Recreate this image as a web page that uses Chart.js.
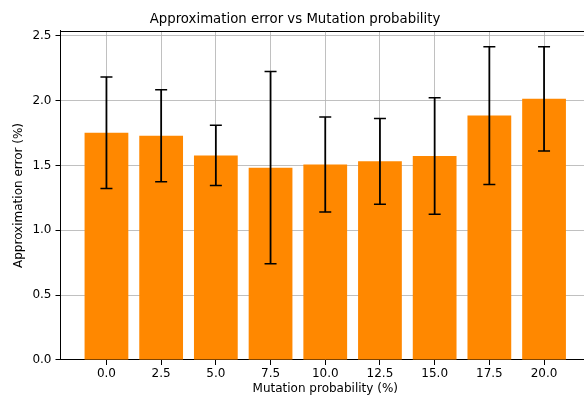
<!DOCTYPE html>
<html>
<head>
<meta charset="utf-8">
<script src="https://cdn.jsdelivr.net/npm/chart.js@4/dist/chart.umd.min.js"></script>
<style>
  html, body { margin: 0; padding: 0; background: #fff; overflow: hidden; width: 584px; height: 396px; }
  canvas { display: block; }
</style>
</head>
<body>
<canvas id="c" width="590" height="396"></canvas>
<script>
// Data
const mutationProb = [0.0, 2.5, 5.0, 7.5, 10.0, 12.5, 15.0, 17.5, 20.0];
const meanError    = [1.752, 1.728, 1.577, 1.482, 1.506, 1.531, 1.572, 1.884, 2.013];
const stdError     = [0.430, 0.355, 0.233, 0.741, 0.366, 0.330, 0.449, 0.531, 0.402];
const yTicks = [0.0, 0.5, 1.0, 1.5, 2.0, 2.5];
const xTicks = mutationProb;

const FONT = "'DejaVu Sans', sans-serif";

const errorBars = {
  id: 'errorBars',
  afterDraw(chart) {
    const ctx = chart.ctx;
    const xs = chart.scales.x, ys = chart.scales.y;
    ctx.save();
    ctx.strokeStyle = '#000';
    mutationProb.forEach((m, i) => {
      const px = xs.getPixelForValue(m);
      const top = ys.getPixelForValue(meanError[i] + stdError[i]);
      const bot = ys.getPixelForValue(meanError[i] - stdError[i]);
      ctx.lineWidth = 1.8;
      ctx.beginPath();
      ctx.moveTo(px, top); ctx.lineTo(px, bot);
      ctx.stroke();
      ctx.lineWidth = 1.5;
      ctx.beginPath();
      ctx.moveTo(px - 6, top); ctx.lineTo(px + 6, top);
      ctx.moveTo(px - 6, bot); ctx.lineTo(px + 6, bot);
      ctx.stroke();
    });
    // top spine
    const a = chart.chartArea;
    ctx.lineWidth = 1;
    ctx.beginPath();
    ctx.moveTo(a.left, Math.round(a.top) + 0.5);
    ctx.lineTo(a.right, Math.round(a.top) + 0.5);
    ctx.stroke();
    ctx.restore();
  }
};

new Chart(document.getElementById('c'), {
  type: 'bar',
  data: {
    datasets: [{
      data: mutationProb.map((m, i) => ({ x: m, y: meanError[i] })),
      backgroundColor: '#ff8800',
      borderWidth: 0,
      categoryPercentage: 1.0,
      barPercentage: 0.8
    }]
  },
  options: {
    responsive: false,
    animation: false,
    layout: { padding: 0 },
    plugins: {
      legend: { display: false },
      tooltip: { enabled: false },
      title: {
        display: true,
        text: 'Approximation error vs Mutation probability',
        color: '#000',
        font: { family: FONT, size: 13.3, weight: 'normal' },
        padding: { top: 12, bottom: 3 }
      }
    },
    scales: {
      x: {
        type: 'linear',
        min: -2.1,
        max: 22.1,
        offset: false,
        z: 1,
        afterFit(s) { s.height = 36; },
        afterBuildTicks(s) { s.ticks = xTicks.map(v => ({ value: v })); },
        ticks: {
          includeBounds: false,
          stepSize: 2.5,
          color: '#000',
          padding: 2,
          maxRotation: 0,
          autoSkip: false,
          font: { family: FONT, size: 12 },
          callback: v => Number(v).toFixed(1)
        },
        grid: { offset: false, color: '#b0b0b0', lineWidth: 0.8, tickColor: '#000', tickWidth: 1, tickLength: 5 },
        border: { display: true, color: '#000', width: 1 },
        title: {
          display: true,
          text: 'Mutation probability (%)',
          color: '#000',
          font: { family: FONT, size: 12 },
          padding: { top: 0, bottom: 0 }
        }
      },
      y: {
        min: 0,
        max: 2.536,
        z: 1,
        afterFit(s) { s.width = 60.5; },
        afterBuildTicks(s) { s.ticks = yTicks.map(v => ({ value: v })); },
        ticks: {
          includeBounds: false,
          stepSize: 0.5,
          color: '#000',
          padding: 4,
          font: { family: FONT, size: 12 },
          callback: v => Number(v).toFixed(1)
        },
        grid: { color: '#b0b0b0', lineWidth: 0.8, tickColor: '#000', tickWidth: 1, tickLength: 5 },
        border: { display: true, color: '#000', width: 1 },
        title: {
          display: true,
          text: 'Approximation error (%)',
          color: '#000',
          font: { family: FONT, size: 12 },
          padding: { top: 11.5, bottom: 0 }
        }
      }
    }
  },
  plugins: [errorBars]
});
</script>
</body>
</html>
